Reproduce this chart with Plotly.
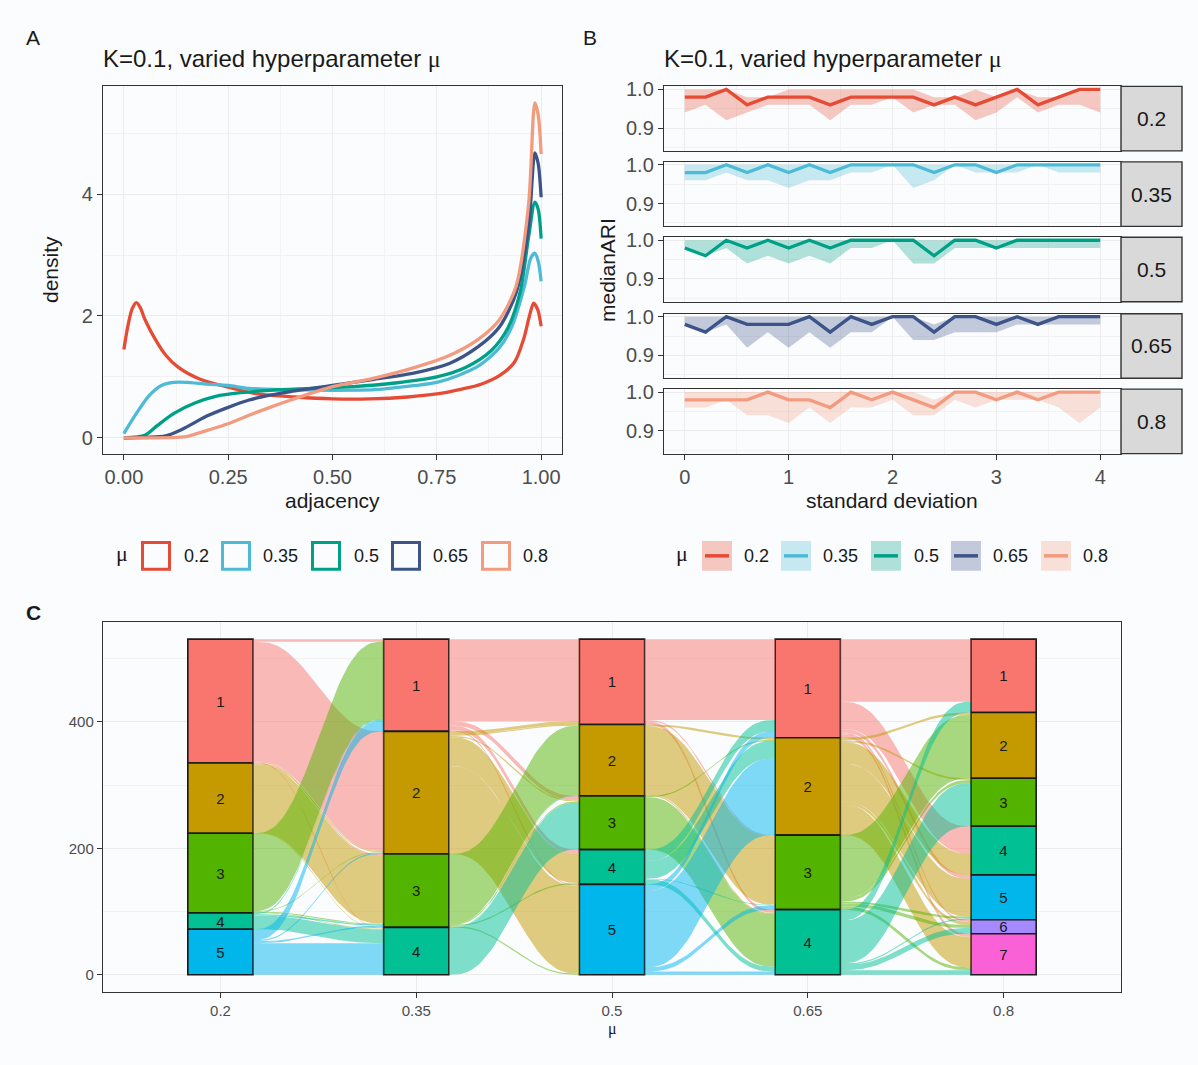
import plotly.graph_objects as go

W, H = 1198, 1065
DY = -6  # vertical calibration offset (px)
FONT = "Liberation Sans"
BG = "#FBFCFE"
TXT = "#1A1A1A"
TICK = "#4D4D4D"
FRAME = "#333333"
MU = "<span style='font-family:Liberation Serif'>μ</span>"

def px(x):
    return x / W

def py(y):
    return 1 - (y + DY) / H

# ---------------- data ----------------
mu_levels = ["0.2", "0.35", "0.5", "0.65", "0.8"]
npg_cols = ["#E64B35", "#4DBBD5", "#00A087", "#3C5488", "#F39B7F"]

# Panel A: density of adjacency
adj_02 = [0, 0.01, 0.02, 0.03, 0.04, 0.05, 0.075, 0.1, 0.13, 0.18, 0.25, 0.32, 0.41, 0.5, 0.59, 0.68, 0.75, 0.81, 0.856, 0.9, 0.936, 0.958, 0.972, 0.982, 0.992, 1.0]
den_02 = [1.45, 1.85, 2.12, 2.22, 2.13, 1.95, 1.62, 1.36, 1.16, 0.97, 0.83, 0.72, 0.67, 0.64, 0.64, 0.67, 0.72, 0.80, 0.88, 1.02, 1.24, 1.62, 2.0, 2.21, 2.1, 1.83]
adj_035 = [0, 0.03, 0.06, 0.09, 0.12, 0.15, 0.2, 0.25, 0.3, 0.4, 0.5, 0.6, 0.7, 0.75, 0.8, 0.85, 0.9, 0.93, 0.96, 0.975, 0.985, 0.993, 1.0]
den_035 = [0.07, 0.4, 0.69, 0.86, 0.91, 0.91, 0.88, 0.86, 0.81, 0.79, 0.78, 0.79, 0.86, 0.91, 1.02, 1.18, 1.48, 1.83, 2.49, 2.95, 3.03, 2.9, 2.57]
adj_05 = [0, 0.05, 0.08, 0.12, 0.17, 0.22, 0.28, 0.35, 0.45, 0.55, 0.65, 0.75, 0.82, 0.88, 0.92, 0.95, 0.97, 0.985, 0.993, 1.0]
den_05 = [0, 0.04, 0.2, 0.4, 0.57, 0.68, 0.74, 0.78, 0.81, 0.84, 0.9, 1.0, 1.16, 1.43, 1.8, 2.4, 3.3, 3.87, 3.75, 3.27]
adj_065 = [0, 0.1, 0.14, 0.2, 0.25, 0.3, 0.35, 0.4, 0.5, 0.6, 0.7, 0.78, 0.85, 0.9, 0.94, 0.97, 0.985, 0.993, 1.0]
den_065 = [0, 0.03, 0.14, 0.36, 0.5, 0.62, 0.7, 0.76, 0.86, 0.96, 1.07, 1.22, 1.5, 1.82, 2.38, 3.46, 4.68, 4.5, 3.95]
adj_08 = [0, 0.15, 0.18, 0.25, 0.3, 0.35, 0.4, 0.5, 0.6, 0.7, 0.78, 0.85, 0.9, 0.94, 0.97, 0.985, 0.993, 1.0]
den_08 = [0, 0.02, 0.08, 0.23, 0.37, 0.5, 0.62, 0.84, 0.98, 1.16, 1.35, 1.62, 1.94, 2.49, 3.84, 5.5, 5.3, 4.66]

# Panel B: median ARI with ribbon
sd = [0, 0.2, 0.4, 0.6, 0.8, 1.0, 1.2, 1.4, 1.6, 1.8, 2.0, 2.2, 2.4, 2.6, 2.8, 3.0, 3.2, 3.4, 3.6, 3.8, 4.0]
med_02 = [0.98, 0.98, 1.0, 0.96, 0.98, 0.98, 0.98, 0.96, 0.98, 0.98, 0.98, 0.98, 0.96, 0.98, 0.96, 0.98, 1.0, 0.96, 0.98, 1.0, 1.0]
lo_02 = [0.94, 0.96, 0.92, 0.94, 0.96, 0.96, 0.96, 0.92, 0.96, 0.96, 0.98, 0.94, 0.96, 0.96, 0.92, 0.94, 0.98, 0.94, 0.96, 0.96, 0.94]
hi_02 = [1.0, 1.0, 1.0, 0.98, 0.98, 1.0, 1.0, 1.0, 1.0, 1.0, 1.0, 1.0, 0.98, 0.98, 1.0, 0.98, 1.0, 0.98, 0.98, 1.0, 1.0]
med_035 = [0.98, 0.98, 1.0, 0.98, 1.0, 0.98, 1.0, 0.98, 1.0, 1.0, 1.0, 1.0, 0.98, 1.0, 1.0, 0.98, 1.0, 1.0, 1.0, 1.0, 1.0]
lo_035 = [0.96, 0.96, 0.98, 0.96, 0.96, 0.94, 0.96, 0.96, 0.98, 0.98, 1.0, 0.94, 0.96, 1.0, 0.98, 0.98, 0.98, 1.0, 0.98, 0.98, 0.98]
hi_035 = [1.0] * 21
med_05 = [0.98, 0.96, 1.0, 0.98, 1.0, 0.98, 1.0, 0.98, 1.0, 1.0, 1.0, 1.0, 0.96, 1.0, 1.0, 0.98, 1.0, 1.0, 1.0, 1.0, 1.0]
lo_05 = [0.98, 0.96, 0.98, 0.94, 0.96, 0.94, 0.96, 0.94, 0.98, 0.98, 1.0, 0.94, 0.94, 0.98, 0.98, 0.98, 0.98, 0.98, 0.98, 0.98, 0.98]
hi_05 = [1.0] * 21
med_065 = [0.98, 0.96, 1.0, 0.98, 0.98, 0.98, 1.0, 0.96, 1.0, 0.98, 1.0, 1.0, 0.96, 1.0, 1.0, 0.98, 1.0, 0.98, 1.0, 1.0, 1.0]
lo_065 = [0.98, 0.96, 0.98, 0.92, 0.96, 0.92, 0.96, 0.92, 0.96, 0.96, 1.0, 0.94, 0.94, 0.96, 0.96, 0.96, 0.98, 0.98, 0.98, 0.98, 0.98]
hi_065 = [1.0, 1.0, 1.0, 1.0, 1.0, 1.0, 1.0, 1.0, 1.0, 1.0, 1.0, 1.0, 0.98, 1.0, 1.0, 1.0, 1.0, 1.0, 1.0, 1.0, 1.0]
med_08 = [0.98, 0.98, 0.98, 0.98, 1.0, 0.98, 0.98, 0.96, 1.0, 0.98, 1.0, 0.98, 0.96, 1.0, 1.0, 0.98, 1.0, 0.98, 1.0, 1.0, 1.0]
lo_08 = [0.96, 0.96, 0.98, 0.94, 0.94, 0.92, 0.96, 0.92, 0.96, 0.96, 0.98, 0.94, 0.94, 0.98, 0.96, 0.98, 0.98, 0.98, 0.96, 0.92, 0.96]
hi_08 = [1.0, 1.0, 1.0, 1.0, 1.0, 1.0, 1.0, 1.0, 1.0, 1.0, 1.0, 1.0, 0.98, 1.0, 1.0, 1.0, 1.0, 1.0, 1.0, 1.0, 1.0]

# Panel C: cluster flows between consecutive mu values (rows = from cluster, cols = to cluster)
cluster_labels = ["1", "2", "3", "4", "5", "6", "7"]
cluster_cols = ["#F8766D", "#C49A00", "#53B400", "#00C094", "#00B6EB", "#A58AFF", "#FB61D7"]
flow_02_035 = [
    [4, 189, 2, 1],
    [0, 2, 108, 1],
    [123, 1, 1, 1],
    [2, 0, 2, 22],
    [17, 2, 3, 50],
]
flow_035_05 = [
    [130, 0, 7, 7, 2],
    [5, 2, 2, 46, 139],
    [0, 110, 2, 2, 2],
    [0, 1, 74, 0, 0],
]
flow_05_065 = [
    [128, 0, 2, 5],
    [0, 3, 108, 2],
    [0, 2, 0, 83],
    [18, 28, 1, 8],
    [10, 121, 7, 5],
]
flow_065_08 = [
    [99, 0, 0, 43, 6, 3, 5],
    [0, 4, 3, 34, 60, 5, 48],
    [0, 100, 5, 0, 3, 5, 5],
    [17, 0, 68, 0, 2, 9, 7],
]

# ---------------- figure ----------------
fig = go.Figure()

def rgba(hexc, a):
    h = hexc.lstrip("#")
    r, g, b = int(h[0:2], 16), int(h[2:4], 16), int(h[4:6], 16)
    return f"rgba({r},{g},{b},{a})"

# Panel A
dens_x = [adj_02, adj_035, adj_05, adj_065, adj_08]
dens_y = [den_02, den_035, den_05, den_065, den_08]
for i in range(5):
    fig.add_trace(go.Scatter(x=dens_x[i], y=dens_y[i], mode="lines",
                             line=dict(color=npg_cols[i], width=3.3, shape="spline", smoothing=0.8),
                             xaxis="x", yaxis="y", showlegend=False, hoverinfo="skip"))

# Panel B
meds = [med_02, med_035, med_05, med_065, med_08]
los = [lo_02, lo_035, lo_05, lo_065, lo_08]
his = [hi_02, hi_035, hi_05, hi_065, hi_08]
for i in range(5):
    ax = str(i + 2)
    fig.add_trace(go.Scatter(x=sd + sd[::-1], y=his[i] + los[i][::-1], fill="toself",
                             fillcolor=rgba(npg_cols[i], 0.3), line=dict(width=0),
                             mode="lines", xaxis="x" + ax, yaxis="y" + ax,
                             showlegend=False, hoverinfo="skip"))
    fig.add_trace(go.Scatter(x=sd, y=meds[i], mode="lines",
                             line=dict(color=npg_cols[i], width=3.3),
                             xaxis="x" + ax, yaxis="y" + ax, showlegend=False, hoverinfo="skip"))

# Panel C
flows = [flow_02_035, flow_035_05, flow_05_065, flow_065_08]
sizes = [[sum(r) for r in flows[0]]]
for T in flows:
    ncol = len(T[0])
    sizes.append([sum(T[k][d] for k in range(len(T))) for d in range(ncol)])

def tops(sz):
    return [sum(sz[k:]) for k in range(len(sz))]

BW = 1 / 3
NPTS = 40
for c, T in enumerate(flows):
    ltop = tops(sizes[c])
    rtop = tops(sizes[c + 1])
    x0 = c + 1 + BW / 2
    x1 = c + 2 - BW / 2
    for k in range(len(T)):
        for d in range(len(T[k])):
            v = T[k][d]
            if v <= 0:
                continue
            yl_top = ltop[k] - sum(T[k][:d])
            yr_top = rtop[d] - sum(T[j][d] for j in range(k))
            xs, ytop, ybot = [], [], []
            for n in range(NPTS + 1):
                t = n / NPTS
                s = t * t * t * (t * (t * 6 - 15) + 10)
                xs.append(x0 + (x1 - x0) * t)
                yt = yl_top + (yr_top - yl_top) * s
                ytop.append(yt)
                ybot.append(yt - v)
            fig.add_trace(go.Scatter(x=xs + xs[::-1], y=ytop + ybot[::-1], fill="toself",
                                     fillcolor=rgba(cluster_cols[k], 0.5), line=dict(width=0),
                                     mode="lines", xaxis="x7", yaxis="y7",
                                     showlegend=False, hoverinfo="skip"))

for c, sz in enumerate(sizes):
    tp = tops(sz)
    n = len(sz)
    fig.add_trace(go.Bar(x=[c + 1] * n, y=sz, base=[tp[k] - sz[k] for k in range(n)],
                         width=BW, marker=dict(color=cluster_cols[:n], line=dict(color="#1A1A1A", width=1.6)),
                         text=cluster_labels[:n], textposition="inside", insidetextanchor="middle",
                         textangle=0, constraintext="none",
                         insidetextfont=dict(color="#1A1A1A", size=15, family=FONT),
                         xaxis="x7", yaxis="y7", showlegend=False, hoverinfo="skip"))

# ---------------- axes ----------------
def base_axis(**kw):
    d = dict(showline=True, mirror=True, linecolor=FRAME, linewidth=1.4,
             ticks="outside", ticklen=5, tickwidth=1.2, tickcolor=FRAME,
             showgrid=True, gridcolor="#EBEBEB", gridwidth=1.2, zeroline=False,
             tickfont=dict(family=FONT, size=20, color=TICK))
    d.update(kw)
    return d

MINOR = dict(showgrid=True, gridcolor="#F2F2F2", gridwidth=0.7, ticks="")

layout = dict(width=W, height=H, margin=dict(l=0, r=0, t=0, b=0),
              paper_bgcolor=BG, plot_bgcolor=BG, barmode="overlay", showlegend=False,
              font=dict(family=FONT, color=TXT))

layout["xaxis"] = base_axis(domain=[px(103), px(562)], range=[-0.05, 1.05],
                            tickvals=[0, 0.25, 0.5, 0.75, 1.0], ticktext=["0.00", "0.25", "0.50", "0.75", "1.00"],
                            minor=dict(tickvals=[0.125, 0.375, 0.625, 0.875], **MINOR), anchor="y")
layout["yaxis"] = base_axis(domain=[py(455), py(85)], range=[-0.26, 5.77],
                            tickvals=[0, 2, 4], minor=dict(tickvals=[1, 3, 5], **MINOR), anchor="x")

facet_px = [(85, 150), (161, 226), (237, 302), (314, 379), (390, 455)]
for i, (t, b) in enumerate(facet_px):
    ax = str(i + 2)
    last = (i == 4)
    layout["xaxis" + ax] = base_axis(domain=[px(664), px(1121)], range=[-0.2, 4.2],
                                     tickvals=[0, 1, 2, 3, 4], showticklabels=last,
                                     ticks="outside" if last else "",
                                     minor=dict(tickvals=[0.5, 1.5, 2.5, 3.5], **MINOR), anchor="y" + ax)
    layout["yaxis" + ax] = base_axis(domain=[py(b), py(t)], range=[0.841, 1.0077],
                                     tickvals=[0.9, 1.0], ticktext=["0.9", "1.0"],
                                     minor=dict(tickvals=[0.85, 0.95], **MINOR), anchor="x" + ax)

layout["xaxis7"] = base_axis(domain=[px(103), px(1121)], range=[0.4, 5.6],
                             tickvals=[1, 2, 3, 4, 5], ticktext=mu_levels,
                             tickfont=dict(family=FONT, size=15, color=TICK), anchor="y7")
layout["yaxis7"] = base_axis(domain=[py(997), py(625)], range=[-26.55, 557.55],
                             tickvals=[0, 200, 400], minor=dict(tickvals=[100, 300, 500], **MINOR),
                             tickfont=dict(family=FONT, size=15, color=TICK), anchor="x7")

fig.update_layout(**layout)

# ---------------- annotations & shapes ----------------
ann = []
shapes = []

def A(x, y, text, size, xanchor="center", yanchor="middle", angle=0, color=TXT, bold=False):
    ann.append(dict(x=px(x), y=py(y), xref="paper", yref="paper", text=("<b>%s</b>" % text) if bold else text,
                    showarrow=False, xanchor=xanchor, yanchor=yanchor, textangle=angle,
                    font=dict(family=FONT, size=size, color=color)))

A(24, 36, "A", 21, xanchor="left")
A(581, 36, "B", 21, xanchor="left")
A(24, 615, "C", 21, xanchor="left", bold=True)
A(101, 57, "K=0.1, varied hyperparameter " + MU, 24, xanchor="left")
A(662, 57, "K=0.1, varied hyperparameter " + MU, 24, xanchor="left")
A(50, 270, "density", 21, angle=-90)
A(332, 502, "adjacency", 21)
A(607, 270, "medianARI", 21, angle=-90)
A(892, 502, "standard deviation", 21)
A(612, 1035, MU, 16)

# strips
for i, (t, b) in enumerate(facet_px):
    shapes.append(dict(type="rect", xref="paper", yref="paper", x0=px(1121), x1=px(1182), y0=py(b), y1=py(t),
                       fillcolor="#D9D9D9", line=dict(color=FRAME, width=1.4)))
    A(1151.5, (t + b) / 2, mu_levels[i], 21)

# legends
key_a = [141, 221, 311, 391, 481]
lab_a = [196, 280, 366, 450, 535]
key_b = [702, 781, 871, 951, 1041]
lab_b = [756, 840, 926, 1010, 1095]
A(122, 556, MU, 22)
A(682, 556, MU, 22)
for i in range(5):
    shapes.append(dict(type="rect", xref="paper", yref="paper", x0=px(key_a[i] + 1.5), x1=px(key_a[i] + 28.5),
                       y0=py(571.5), y1=py(544.5), fillcolor="rgba(0,0,0,0)",
                       line=dict(color=npg_cols[i], width=3)))
    A(lab_a[i], 558, mu_levels[i], 18)
    shapes.append(dict(type="rect", xref="paper", yref="paper", x0=px(key_b[i]), x1=px(key_b[i] + 30),
                       y0=py(573), y1=py(543), fillcolor=rgba(npg_cols[i], 0.3), line=dict(width=0)))
    shapes.append(dict(type="line", xref="paper", yref="paper", x0=px(key_b[i] + 3), x1=px(key_b[i] + 27),
                       y0=py(558), y1=py(558), line=dict(color=npg_cols[i], width=3.5)))
    A(lab_b[i], 558, mu_levels[i], 18)

fig.update_layout(annotations=ann, shapes=shapes)
fig.write_html("out.html")
